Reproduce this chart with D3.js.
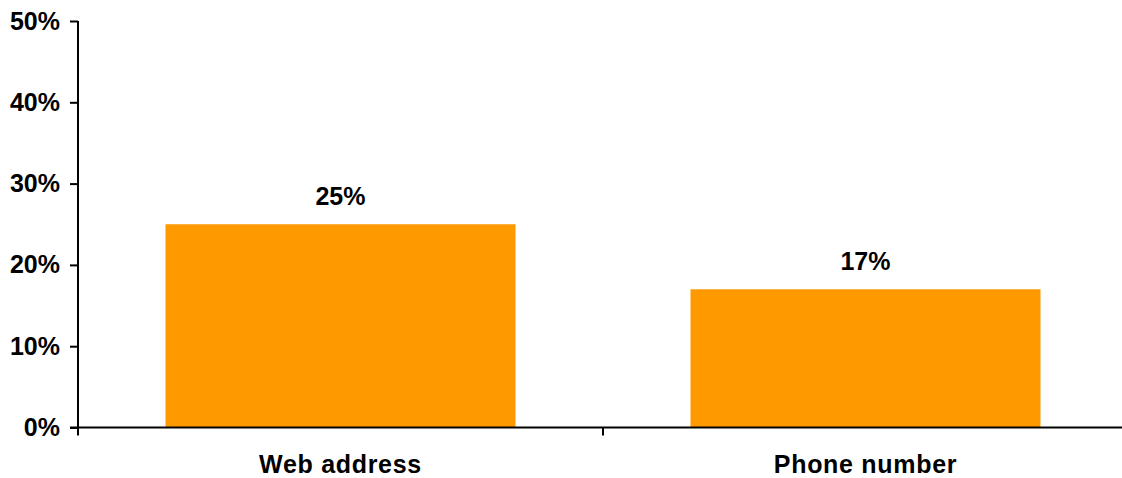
<!DOCTYPE html>
<html>
<head>
<meta charset="utf-8">
<script src="https://cdn.jsdelivr.net/npm/d3@7"></script>
<style>
  html, body { margin: 0; padding: 0; background: #fff; }
  svg { display: block; }
  text { font-family: "Liberation Sans", Arial, sans-serif; font-weight: bold; fill: #000; }
</style>
</head>
<body>
<script>
const categories = ["Web address", "Phone number"];
const values = [0.25, 0.17];
const yTicks = [0, 0.1, 0.2, 0.3, 0.4, 0.5];

(function () {
const W = 1122, H = 478;
const svg = d3.select("body").append("svg").attr("width", W).attr("height", H);

const pLeft = 78, pRight = 1128, pBottom = 427.5, pTop = 21;
const x = d3.scaleBand().domain(categories).range([pLeft, pRight]).padding(0);
const y = d3.scaleLinear().domain([0, 0.5]).range([pBottom, pTop]);
const fmt = d3.format(".0%");

// bars
const bw = x.bandwidth() * 2 / 3;
svg.selectAll("rect.bar").data(categories).enter().append("rect")
  .attr("class", "bar")
  .attr("x", (d) => x(d) + (x.bandwidth() - bw) / 2)
  .attr("width", bw)
  .attr("y", (d, i) => y(values[i]))
  .attr("height", (d, i) => pBottom - y(values[i]))
  .attr("fill", "#FF9900");

// value labels
svg.selectAll("text.val").data(categories).enter().append("text")
  .attr("class", "val")
  .attr("x", (d) => x(d) + x.bandwidth() / 2)
  .attr("y", (d, i) => y(values[i]) - 19)
  .attr("text-anchor", "middle")
  .style("font-size", "25px")
  .text((d, i) => fmt(values[i]));

// y axis
const yAxis = d3.axisLeft(y).tickValues(yTicks).tickFormat(fmt).tickSize(8).tickPadding(10);
const gy = svg.append("g").attr("transform", `translate(${pLeft},0)`).call(yAxis);
gy.select(".domain").attr("stroke", "#000").attr("stroke-width", 2).attr("d", `M0,${pTop}V${pBottom}`);
gy.selectAll(".tick line").attr("stroke", "#000").attr("stroke-width", 2);
gy.selectAll(".tick text")
  .style("font-size", "25px")
  .style("font-family", '"Liberation Sans", Arial, sans-serif')
  .style("font-weight", "bold")
  .attr("fill", "#000");

// x axis
const gx = svg.append("g").attr("transform", `translate(0,${pBottom})`);
gx.append("line").attr("x1", pLeft - 8).attr("x2", pRight).attr("y1", 0).attr("y2", 0)
  .attr("stroke", "#000").attr("stroke-width", 2);
const boundaries = categories.map((c) => x(c)).concat([pRight]);
gx.selectAll("line.xt").data(boundaries).enter().append("line")
  .attr("class", "xt")
  .attr("x1", (d) => d).attr("x2", (d) => d)
  .attr("y1", 0).attr("y2", 8)
  .attr("stroke", "#000").attr("stroke-width", 2);
gx.selectAll("text.cat").data(categories).enter().append("text")
  .attr("class", "cat")
  .attr("x", (d) => x(d) + x.bandwidth() / 2)
  .attr("y", 473 - pBottom)
  .attr("text-anchor", "middle")
  .style("font-size", "25px")
  .style("letter-spacing", "0.7px")
  .text((d) => d);
})();
</script>
</body>
</html>
